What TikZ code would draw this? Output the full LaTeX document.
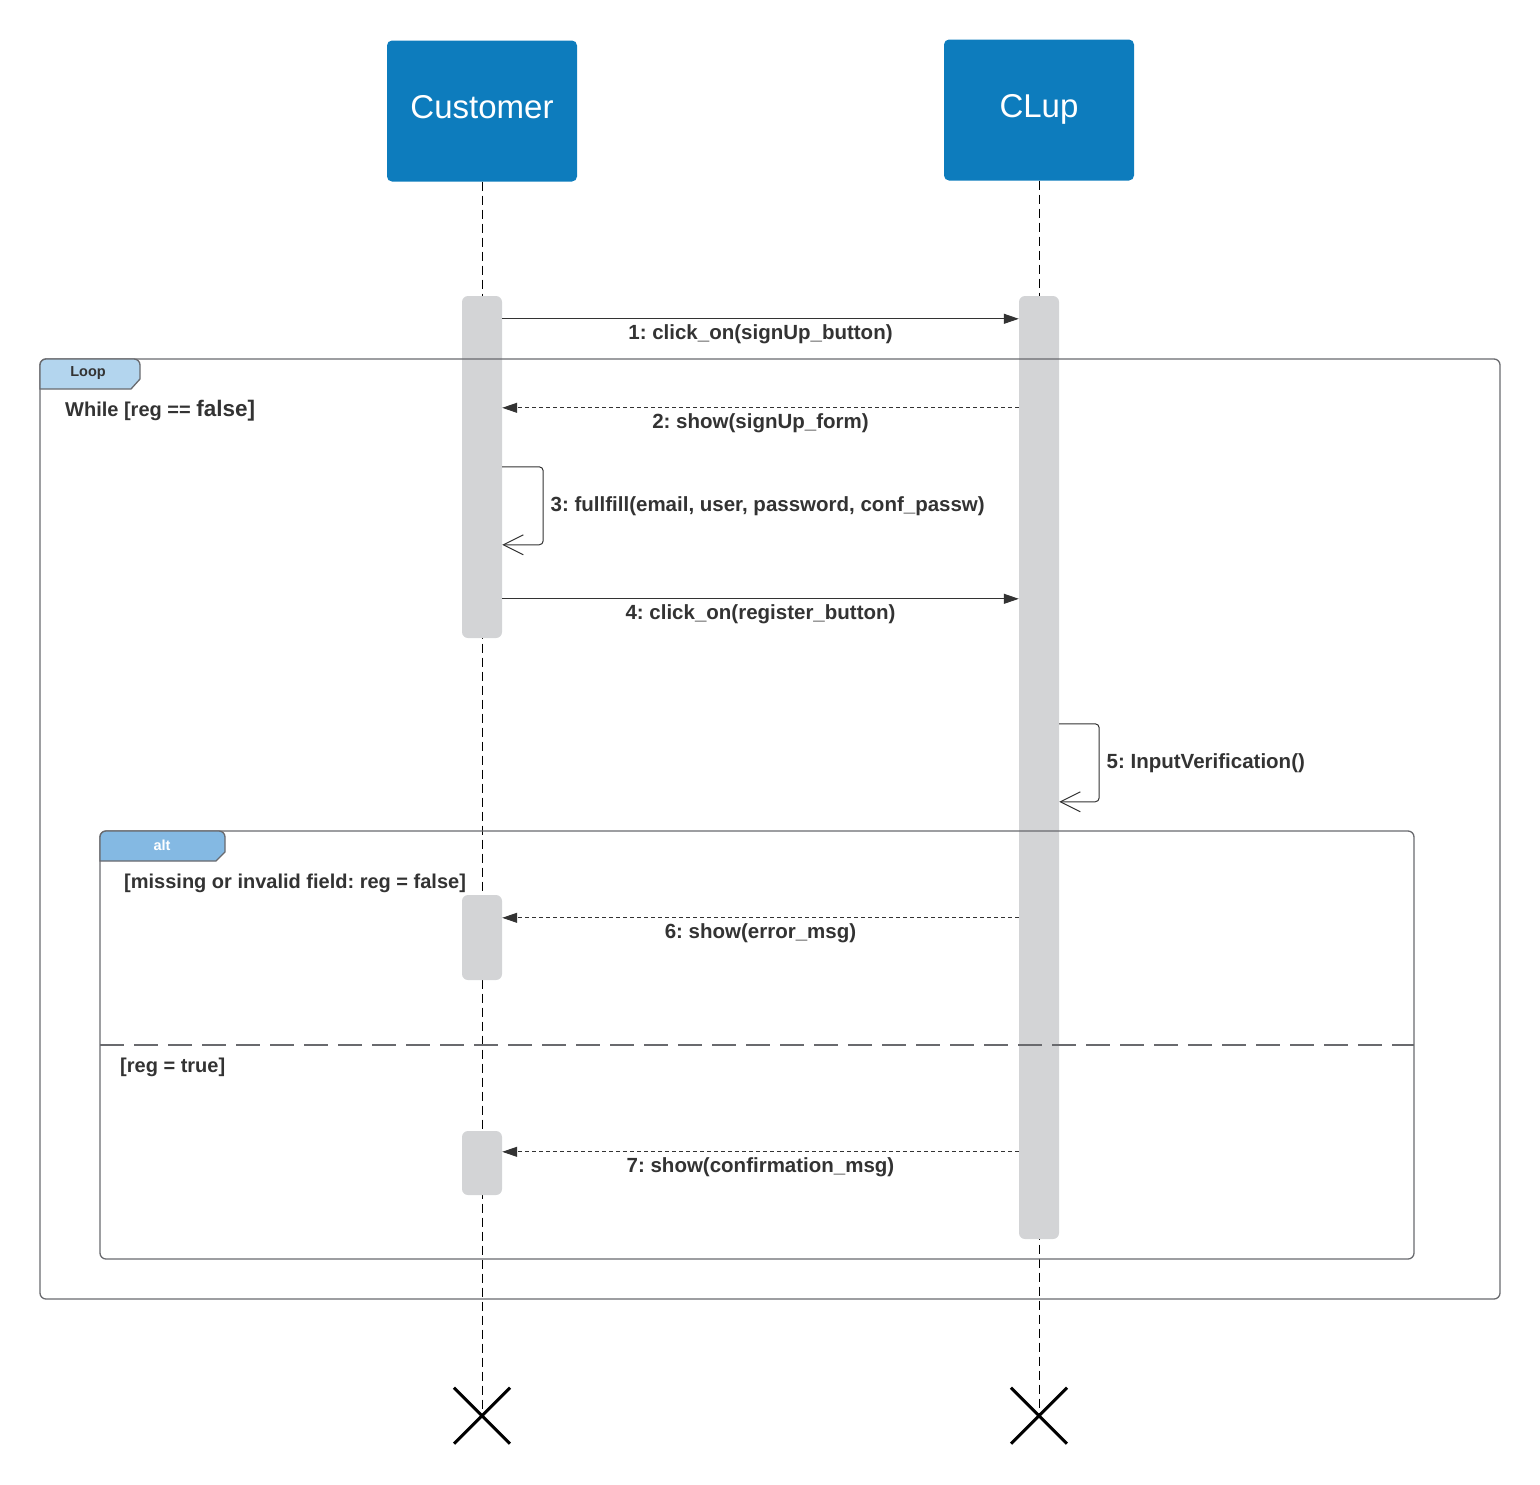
\documentclass[tikz,border=0pt]{standalone}
\usepackage{fontspec}
\setmainfont{Liberation Sans}
\usetikzlibrary{calc, arrows.meta}

\definecolor{lucidblue}{RGB}{13,124,189}
\definecolor{actgray}{RGB}{211,212,214}
\definecolor{looptab}{RGB}{179,213,238}
\definecolor{alttab}{RGB}{132,185,227}
\definecolor{framegray}{RGB}{105,106,110}
\definecolor{textdark}{RGB}{51,51,51}

\begin{document}
\frenchspacing
\begin{tikzpicture}[x=1pt, y=-1pt]
    \tikzstyle{actor} = [rectangle, rounded corners=5pt, fill=lucidblue, text=white,
        minimum width=190pt, minimum height=141pt, text height=24pt, text depth=9pt,
        font=\fontsize{33}{40}\selectfont]
    \tikzstyle{activation} = [rectangle, rounded corners=6pt, fill=actgray,
        minimum width=40pt, inner sep=0pt]
    \tikzstyle{lifeline} = [black, line width=.9pt, dash pattern=on 9pt off 5pt]
    \tikzstyle{syncmsg} = [textdark, line width=1pt, -{Triangle[length=15pt, width=10pt]}]
    \tikzstyle{replymsg} = [textdark, line width=1pt, dash pattern=on 4pt off 3pt,
        -{Triangle[length=15pt, width=10pt]}]
    \tikzstyle{selfmsg} = [textdark, line width=1pt, rounded corners=4pt,
        -{Straight Barb[length=20pt, width=20pt]}]
    \tikzstyle{msglabel} = [below, inner sep=2pt, yshift=-3pt, text=textdark,
        font=\bfseries\fontsize{20.5}{24}\selectfont]
    \tikzstyle{selflabel} = [right, inner sep=7pt, text=textdark,
        font=\bfseries\fontsize{20.5}{24}\selectfont]
    \tikzstyle{framebox} = [framegray, line width=1.3pt, rounded corners=6pt]
    \tikzstyle{guard} = [right, inner sep=0pt, text=textdark,
        font=\bfseries\fontsize{20}{24}\selectfont]
    \tikzstyle{destroy} = [black, line width=3pt]

    \useasboundingbox (0,0) rectangle (1540,1484);

    % Lifelines ----------------------------------------
    \node (cust) at (482,111) [actor] {Customer};
    \node (clup) at (1039,110) [actor] {CLup};
    \coordinate (custEnd) at ($(cust.south) + (0,1234)$);
    \coordinate (clupEnd) at ($(clup.south) + (0,1235)$);
    \draw [lifeline] (cust.south) -- (custEnd);
    \draw [lifeline] (clup.south) -- (clupEnd);

    \node (custAct1) at (482,467) [activation, minimum height=342pt] {};
    \node (clupAct) at (1039,767.5) [activation, minimum height=943pt] {};
    \node (custAct2) at (482,937.5) [activation, minimum height=85pt] {};
    \node (custAct3) at (482,1163) [activation, minimum height=64pt] {};

    \draw [destroy] ($(custEnd) + (-28,-28)$) -- ($(custEnd) + (28,28)$);
    \draw [destroy] ($(custEnd) + (-28,28)$) -- ($(custEnd) + (28,-28)$);
    \draw [destroy] ($(clupEnd) + (-28,-28)$) -- ($(clupEnd) + (28,28)$);
    \draw [destroy] ($(clupEnd) + (-28,28)$) -- ($(clupEnd) + (28,-28)$);
    % ---------------------------------------------------

    % Frames
    \draw [framebox] (40,359) rectangle (1500,1299);
    \filldraw [framebox, fill=looptab, rounded corners=0pt] (40,389) -- (40,365)
        [rounded corners=6pt] -- (40,359) -- (140,359) [rounded corners=0pt] --
        (140,379) -- (131,389) -- cycle;
    \node (loopTag) at (88,373) [text=textdark, font=\bfseries\fontsize{14.5}{17}\selectfont] {Loop};
    \node (loopGuard) at (65,411) [guard] {While [reg == {\fontsize{22.5}{26}\selectfont false]}};

    \draw [framebox] (100,831) rectangle (1414,1259);
    \filldraw [framebox, fill=alttab, rounded corners=0pt] (100,861) -- (100,837)
        [rounded corners=6pt] -- (100,831) -- (225,831) [rounded corners=0pt] --
        (225,852) -- (216,861) -- cycle;
    \node (altTag) at (162,845) [text=white, font=\bfseries\fontsize{14.5}{17}\selectfont] {alt};
    \node (altGuard1) at (124,883) [guard] {[missing or invalid field: reg = false]};
    \draw [framegray, line width=1.3pt, dash pattern=on 24pt off 10pt] (100,1045) -- (1414,1045);
    \node (altGuard2) at (120,1067) [guard] {[reg = true]};

    % Messages
    \coordinate (m1a) at ($(custAct1.north east) + (0,23)$);
    \coordinate (m1b) at (clupAct.west |- m1a);
    \draw [syncmsg] (m1a) -- node [msglabel] {1: click\_on(signUp\_button)} (m1b);

    \coordinate (m2a) at ($(clupAct.north west) + (0,112)$);
    \coordinate (m2b) at (custAct1.east |- m2a);
    \draw [replymsg] (m2a) -- node [msglabel] {2: show(signUp\_form)} (m2b);

    \coordinate (m3a) at ($(custAct1.north east) + (0,171)$);
    \coordinate (m3b) at ($(m3a) + (0,78)$);
    \draw [selfmsg] (m3a) -- ++(41,0) -- node [selflabel]
        {3: fullfill(email, user, password, conf\_passw)} ++(0,78) -- (m3b);

    \coordinate (m4a) at ($(custAct1.north east) + (0,303)$);
    \coordinate (m4b) at (clupAct.west |- m4a);
    \draw [syncmsg] (m4a) -- node [msglabel] {4: click\_on(register\_button)} (m4b);

    \coordinate (m5a) at ($(clupAct.north east) + (0,428)$);
    \coordinate (m5b) at ($(m5a) + (0,78)$);
    \draw [selfmsg] (m5a) -- ++(40,0) -- node [selflabel]
        {5: InputVerification()} ++(0,78) -- (m5b);

    \coordinate (m6a) at ($(clupAct.north west) + (0,622)$);
    \coordinate (m6b) at (custAct2.east |- m6a);
    \draw [replymsg] (m6a) -- node [msglabel] {6: show(error\_msg)} (m6b);

    \coordinate (m7a) at ($(clupAct.north west) + (0,856)$);
    \coordinate (m7b) at (custAct3.east |- m7a);
    \draw [replymsg] (m7a) -- node [msglabel] {7: show(confirmation\_msg)} (m7b);
\end{tikzpicture}
\end{document}
